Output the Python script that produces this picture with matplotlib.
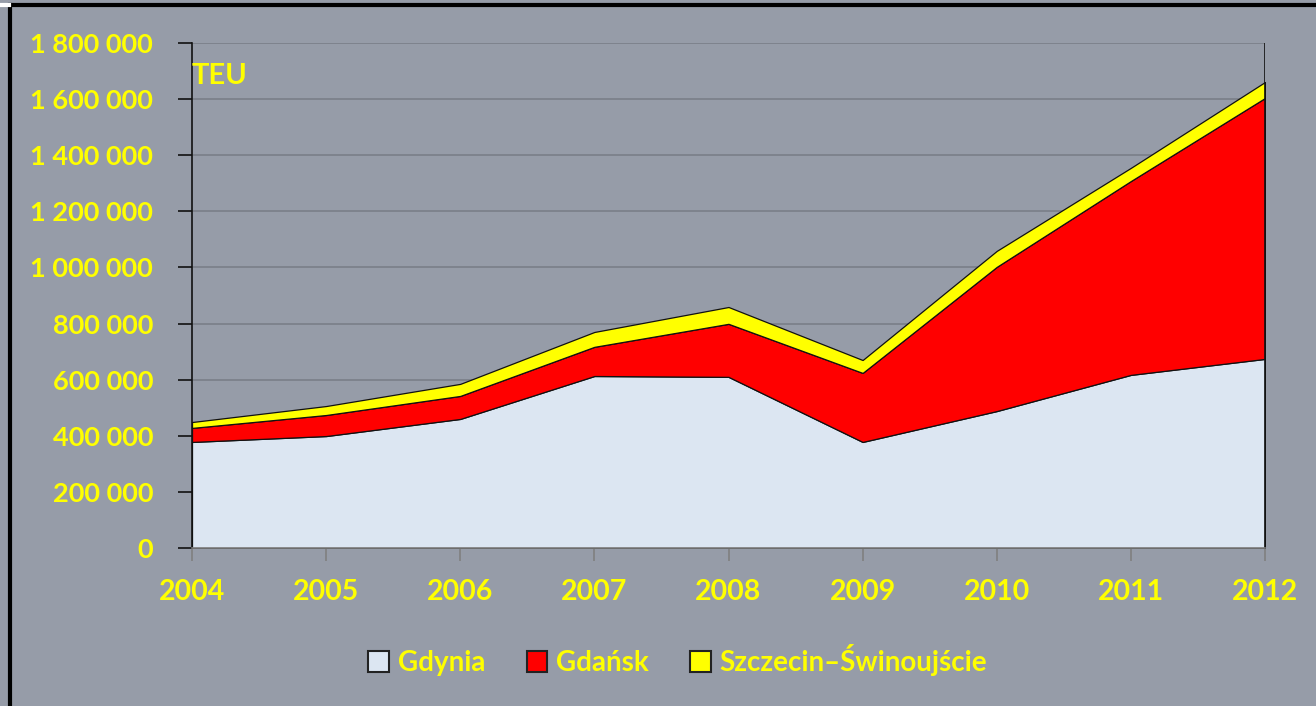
import numpy as np
import matplotlib.pyplot as plt
from matplotlib.lines import Line2D

# TEU throughput of Polish container ports
years = [2004, 2005, 2006, 2007, 2008, 2009, 2010, 2011, 2012]
gdynia = [378000, 399000, 460000, 613000, 610000, 378000, 488000, 617000, 674000]
gdansk = [50000, 75000, 82000, 104000, 189000, 246000, 514000, 691000, 930000]
szczecin = [21000, 32000, 43000, 53000, 60000, 46000, 57000, 47000, 57000]
labels = ["Gdynia", "Gdańsk", "Szczecin\u2013Świnoujście"]
colors = ["#DCE6F2", "#FF0000", "#FFFF00"]

bg = "#969CA8"
yellow = "#FFFF00"
plt.rcParams['font.family'] = ['Lato', 'DejaVu Sans']

fig = plt.figure(figsize=(13.16, 7.06), dpi=100, facecolor=bg)
ax = fig.add_axes([192 / 1316, 1 - 548 / 706, (1265 - 192) / 1316, (548 - 43) / 706])
ax.set_facecolor(bg)

polys = ax.stackplot(years, gdynia, gdansk, szczecin, colors=colors,
                     edgecolor="#111111", linewidth=0.9, labels=labels)

ax.set_xlim(years[0], years[-1])
ax.set_ylim(0, 1800000)
ax.set_xticks(years)
ax.set_yticks(np.arange(0, 1800001, 200000))
ax.set_yticklabels([f"{v:,}".replace(",", " ") for v in range(0, 1800001, 200000)])
ax.yaxis.grid(True, color="#7A7F88", linewidth=1.2)
ax.set_axisbelow(True)

for s in ["top", "right"]:
    ax.spines[s].set_visible(False)
ax.spines["left"].set_color("#111111")
ax.spines["left"].set_linewidth(1.2)
ax.spines["bottom"].set_color("#808080")
ax.spines["bottom"].set_linewidth(1.2)
ax.axvline(years[-1], color="#111111", linewidth=1.2)

ax.tick_params(axis="y", length=10, width=1.2, color="#111111", colors=yellow,
               labelsize=19.5, pad=18)
ax.tick_params(axis="x", length=9, width=1.2, color="#808080", colors=yellow,
               labelsize=20.5, pad=13)
for t in ax.get_xticklabels() + ax.get_yticklabels():
    t.set_fontweight("bold")

ax.text(0.0, 0.935, "TEU", transform=ax.transAxes, color=yellow, fontsize=21,
        fontweight="bold", va="center", ha="left")

leg = fig.legend(handles=polys, labels=labels, loc="center", bbox_to_anchor=(0.515, 1 - 660 / 706),
                 ncol=3, frameon=False, handlelength=0.75, handleheight=0.8,
                 handletextpad=0.3, columnspacing=1.5, prop={"weight": "bold", "size": 20})
for t in leg.get_texts():
    t.set_color(yellow)
for h in leg.legend_handles:
    h.set_edgecolor("#222222")
    h.set_linewidth(1.5)

# frame of the chart area (left and top border)
fig.add_artist(Line2D([10 / 1316, 10 / 1316], [0, 1 - 5 / 706], color="black", linewidth=3,
                      transform=fig.transFigure))
fig.add_artist(Line2D([10 / 1316, 1], [1 - 5 / 706, 1 - 5 / 706], color="black", linewidth=3,
                      transform=fig.transFigure))
fig.add_artist(Line2D([0, 9 / 1316], [1 - 5 / 706, 1 - 5 / 706], color="white", linewidth=3,
                      transform=fig.transFigure))

fig.savefig("out.png", dpi=100, facecolor=bg)
